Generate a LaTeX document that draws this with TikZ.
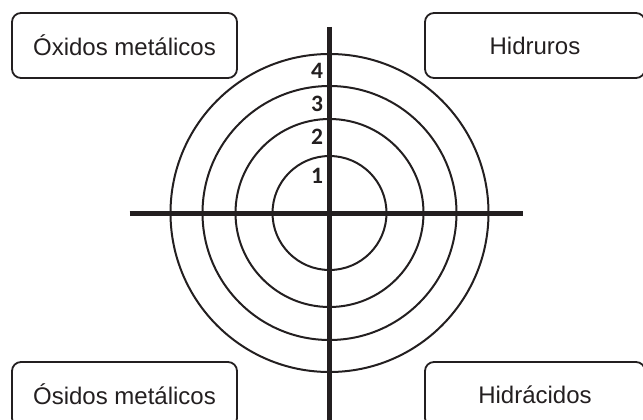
\documentclass[tikz,border=0pt]{standalone}
\usepackage{fontspec}
\setmainfont{Liberation Sans}
\newfontfamily\ringfont{Carlito}
\usetikzlibrary{positioning}
\definecolor{ink}{HTML}{231F20}
\tikzset{
    category/.style={rectangle, rounded corners=9pt, draw=ink, line width=1.8pt, align=center, minimum height=65pt, text=ink, font=\fontsize{24}{28}\selectfont},
    ring/.style={draw=ink, line width=2pt},
    axis/.style={draw=ink, line width=5pt},
    level/.style={text=ink, inner sep=0pt, font=\ringfont\bfseries\fontsize{23.5}{28}\selectfont}
}

\begin{document}
\begin{tikzpicture}[x=1pt, y=-1pt]
    \useasboundingbox (0,0) rectangle (643,420);
    \clip (0,0) rectangle (643,420);

    % Target rings
    \coordinate (center) at (329.5,213);
    \foreach \r in {57,94,127,159}
        \draw[ring] (center) circle (\r pt);

    % Axes
    \coordinate (north) at (329.5,27);
    \coordinate (south) at (329.5,420);
    \coordinate (west) at (129.5,213);
    \coordinate (east) at (523,213);
    \draw[axis] (north) -- (south);
    \draw[axis] (west) -- (east);

    % Ring numbers
    \foreach \n/\y in {1/175.5,2/137,3/104,4/70.7}
        \node[level] (level\n) at (317,\y) {\n};

    % Corner boxes
    \node[category, minimum width=225pt] (oxidos) at (124.5,45.5) {Óxidos metálicos};
    \node[category, minimum width=220pt] (hidruros) at (535,45.5) {Hidruros};
    \node[category, minimum width=225pt] (osidos) at (124.5,394.5) {Ósidos metálicos};
    \node[category, minimum width=220pt] (hidracidos) at (535,394.5) {Hidrácidos};

\end{tikzpicture}
\end{document}
